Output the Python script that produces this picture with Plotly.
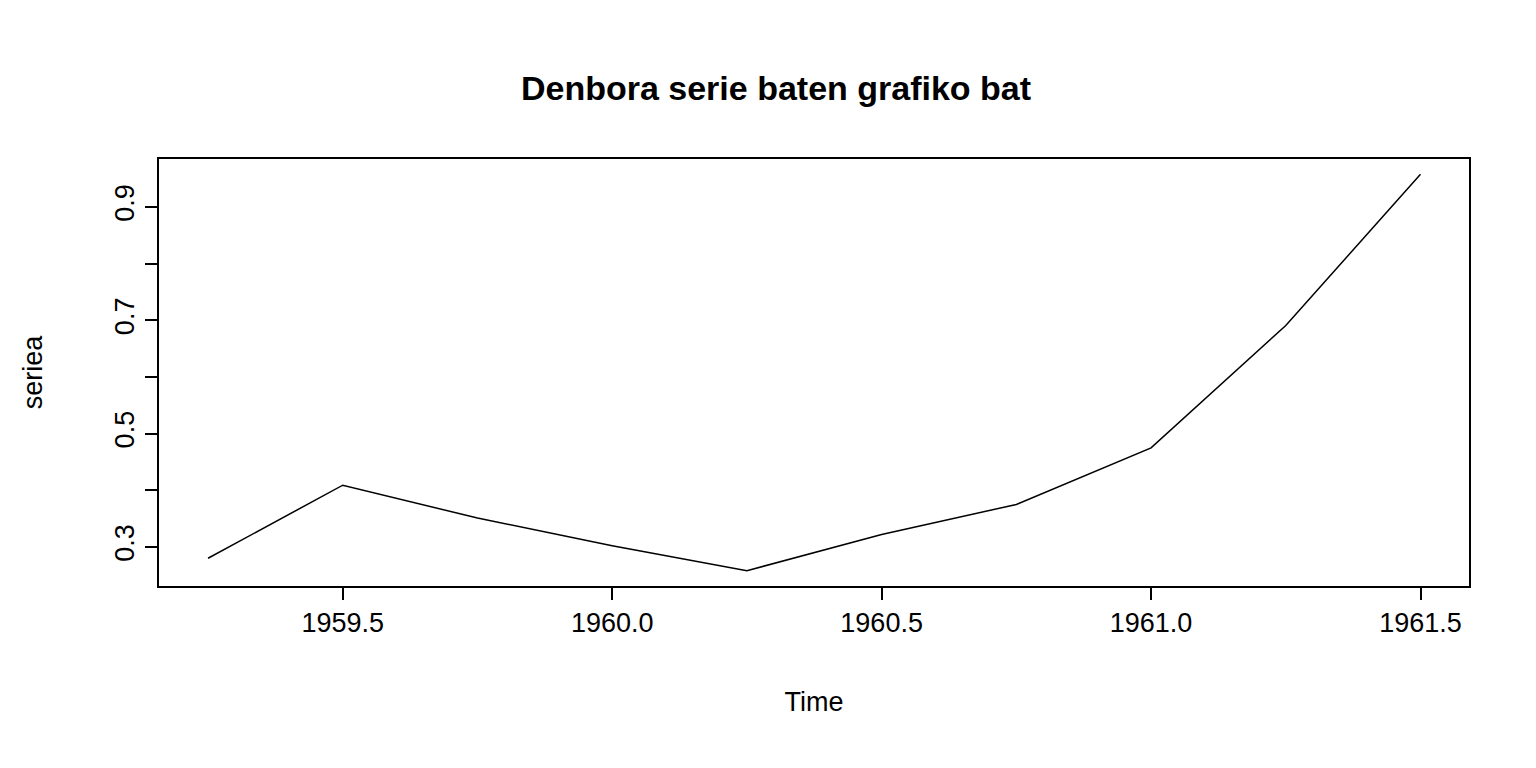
import plotly.graph_objects as go

time = [1959.25, 1959.5, 1959.75, 1960.0, 1960.25, 1960.5, 1960.75, 1961.0, 1961.25, 1961.5]
seriea = [0.280, 0.409, 0.351, 0.302, 0.258, 0.322, 0.375, 0.475, 0.691, 0.958]
xticks = [1959.5, 1960.0, 1960.5, 1961.0, 1961.5]
xlabels = ["1959.5", "1960.0", "1960.5", "1961.0", "1961.5"]
yticks = [0.3, 0.4, 0.5, 0.6, 0.7, 0.8, 0.9]
ylabels = ["0.3", "", "0.5", "", "0.7", "", "0.9"]

font = "Liberation Sans, Arial, sans-serif"
fig = go.Figure(go.Scatter(x=time, y=seriea, mode="lines",
                           line=dict(color="black", width=1.5)))
fig.update_layout(
    width=1536, height=768, plot_bgcolor="white", paper_bgcolor="white",
    margin=dict(l=151, r=75, t=151, b=190), showlegend=False,
    font=dict(family=font, color="black", size=27),
    title=dict(text="<b>Denbora serie baten grafiko bat</b>", x=0.5, xanchor="center",
               y=1 - 80/768, yanchor="middle", font=dict(size=34)),
)
fig.update_xaxes(range=[1959.159, 1961.59], tickvals=xticks, ticktext=xlabels,
                 tickfont=dict(size=27),
                 showline=True, linecolor="black", linewidth=1.5, mirror=True,
                 ticks="outside", ticklen=12, tickwidth=1.5, tickcolor="black",
                 showgrid=False, zeroline=False,
                 title=dict(text="Time", standoff=55, font=dict(size=27)))
fig.update_yaxes(range=[0.231, 0.985], tickvals=yticks, ticktext=ylabels,
                 tickangle=-90, tickfont=dict(size=27),
                 showline=True, linecolor="black", linewidth=1.5, mirror=True,
                 ticks="outside", ticklen=12, tickwidth=1.5, tickcolor="black",
                 showgrid=False, zeroline=False,
                 title=dict(text="seriea", standoff=60, font=dict(size=27)))
fig.write_html("out.html")
